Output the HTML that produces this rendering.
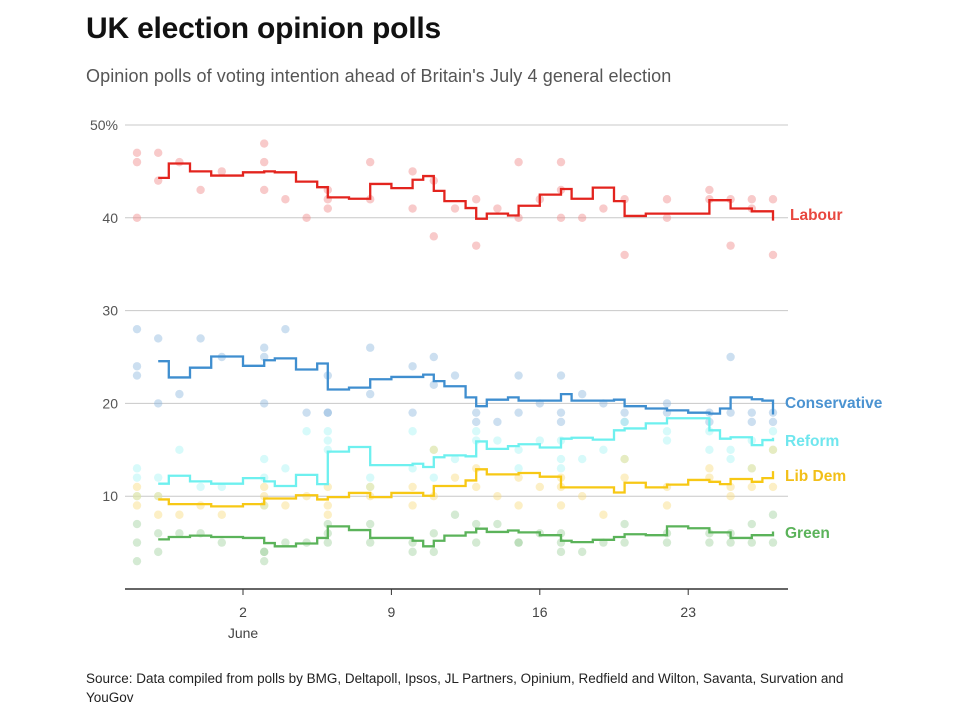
<!DOCTYPE html>
<html><head><meta charset="utf-8">
<style>
body{margin:0;background:#fff;font-family:"Liberation Sans",sans-serif;}
#wrap{position:relative;width:960px;height:720px;overflow:hidden;}
h1{position:absolute;left:86px;top:12px;margin:0;font-size:30px;font-weight:bold;color:#111;letter-spacing:-0.2px}
.sub{position:absolute;left:86px;top:66px;font-size:18px;color:#555;letter-spacing:0.1px}
.src{position:absolute;left:86px;top:669px;font-size:13.5px;color:#222;line-height:19px;width:790px}
</style></head><body>
<div id="wrap">
<h1>UK election opinion polls</h1>
<div class="sub">Opinion polls of voting intention ahead of Britain's July 4 general election</div>
<svg id="chart" width="960" height="720" style="position:absolute;left:0;top:0"></svg>
<div class="src">Source: Data compiled from polls by BMG, Deltapoll, Ipsos, JL Partners, Opinium, Redfield and Wilton, Savanta, Survation and YouGov</div>
</div>
<script>
const yTicks=[10,20,30,40,50];
const xTickDays=[2,9,16,23];
const xTickLabels=["2","9","16","23"];
const seriesNames=["Labour","Conservative","Reform","Lib Dem","Green"];
const labDays=[-2,-1.5,-0.5,0.5,2,3,3.5,4.5,5.5,6,7,8,9,10,10.5,11,11.5,12.5,13,13.5,14.5,15,16,17,17.5,18.5,19.5,20,21,24,25,26];
const labVals=[44.3,45.85,45,44.55,44.9,45,44.9,43.9,43.3,42.2,42.05,43.65,43.2,44.1,44.5,42.9,41.8,41.05,39.9,40.45,40.25,41.3,42.5,43.1,42.05,43.25,41.8,40.2,40.45,41.9,41,40.7];
const conDays=[-2,-1.5,-0.5,0.5,2,3,3.5,4.5,5.5,6,7,8,9,10.5,11,11.5,12.5,13,13.5,14.5,15,17,17.5,19.5,20,21,22,23,24,24.5,25,26,26.5];
const conVals=[24.55,22.8,23.85,25.05,24.05,24.65,24.85,23.65,24.3,21.5,21.7,22.6,22.85,23.1,22.4,21.85,20.65,19.7,20.4,20.65,20.3,21,20.3,20.4,19.7,19.45,19.25,19,18.9,19.45,20.65,20.45,20.3];
const refDays=[-2,-1.5,-0.5,0.5,2,3,3.5,4.5,5.5,6,7,8,10,10.5,11,11.5,12.5,13,13.5,14.5,15,16,17,17.5,18.5,19.5,20,21,22,24,24.5,25,26,26.5];
const refVals=[11.35,12.2,11.6,11.35,11.95,11.6,11.1,12.3,11.3,14.8,15.3,13.35,13.5,13.15,14.2,14.4,14.3,15.9,15.1,15.4,15.6,15.25,16.2,16.3,16.1,17.1,17.3,17.85,18.4,17.1,16.2,16.35,15.5,16.05];
const ldDays=[-2,-1.5,0.5,2,3,4.5,5.5,6,7,8,9,10.5,11,12.5,13,13.5,15,16,17,19.5,20,21,22,23,24,24.5,25,26,26.5];
const ldVals=[9.65,9.15,8.9,9.15,9.75,10.1,9.65,9.9,10.35,9.9,10.35,10.05,11.1,11.7,12.9,12.35,12.5,12.1,10.95,10.4,11.45,10.95,11.25,11.75,11.55,11.3,11.85,11.55,11.95];
const grnDays=[-2,-1.5,-0.5,0.5,2,3,3.5,4.5,5.5,6,7,8,10,10.5,11,11.5,12.5,13,13.5,14.5,15,16,17,17.5,18.5,19.5,20,21,22,23,24,25,26];
const grnVals=[5.35,5.6,5.75,5.6,5.5,4.95,4.6,4.9,5.5,6.75,6.35,5.5,5.2,4.6,5.2,5.75,6.1,6.5,6.15,6.3,6.1,5.8,5.2,5.05,5.3,5.6,5.9,5.8,6.75,6.55,6.1,5.5,5.8];
const endDay=27;
const labEnd=39.7,conEnd=18.8,refEnd=16.3,ldEnd=12.7,grnEnd=6.2;
const pollDays=[-3,-3,-3,-2,-2,-1,0,1,3,3,3,4,5,6,6,6,8,8,10,10,11,11,12,13,13,14,15,15,16,17,17,17,18,19,20,20,22,22,24,24,25,25,26,26,27,27];
const labPolls=[47,46,40,47,44,46,43,45,48,46,43,42,40,43,42,41,46,42,45,41,44,38,41,42,37,41,46,40,42,46,43,40,40,41,42,36,42,40,43,42,42,37,42,41,42,36];
const conPolls=[28,24,23,27,20,21,27,25,26,25,20,28,19,23,19,19,26,21,24,19,25,22,23,19,18,18,23,19,20,23,19,18,21,20,19,18,20,19,19,18,25,19,18,19,19,18];
const refPolls=[13,12,10,12,10,15,11,11,14,12,9,13,17,17,16,15,12,11,17,13,15,12,14,17,16,16,13,15,16,16,14,13,14,15,18,14,17,16,17,15,15,14,16,13,17,15];
const ldPolls=[11,10,9,10,8,8,9,8,11,10,9,9,10,11,9,8,11,10,11,9,15,10,12,13,11,10,9,12,11,12,11,9,10,8,14,12,9,11,13,12,11,10,13,11,15,11];
const grnPolls=[5,3,7,4,6,6,6,5,4,3,4,5,5,7,6,5,7,5,5,4,4,6,8,7,5,7,5,5,6,6,5,4,4,5,7,5,5,6,5,6,6,5,7,5,8,5];

const NS="http://www.w3.org/2000/svg";
const svg=document.getElementById('chart');
const X0=125,X1=788;
function xs(d){return 243+(d-2)*21.2;}
function ys(v){return 589-v*9.28;}
function mk(tag,attrs,parent){const e=document.createElementNS(NS,tag);for(const k in attrs)e.setAttribute(k,attrs[k]);(parent||svg).appendChild(e);return e;}

yTicks.forEach((t,i)=>{
  const g=mk('line',{x1:X0,x2:X1,y1:ys(t),y2:ys(t),stroke:'#c8c8c8','stroke-width':1});
  
  
  const tx=mk('text',{x:118,y:ys(t)+5,'text-anchor':'end','font-size':14,fill:'#555'});
  tx.textContent=t===50?'50%':String(t);
  
  
});
const ax=mk('line',{x1:X0,x2:X1,y1:589,y2:589,stroke:'#333','stroke-width':1.5});


xTickDays.forEach((d,i)=>{
  const tk=mk('line',{x1:xs(d),x2:xs(d),y1:589,y2:595,stroke:'#333'});
  
  
  const tx=mk('text',{x:xs(d),y:617,'text-anchor':'middle','font-size':14,fill:'#444'});
  tx.textContent=xTickLabels[i];
  
  
});
const jn=mk('text',{x:xs(2),y:638,'text-anchor':'middle','font-size':14,fill:'#444'});
jn.textContent='June';



const series=[
 {n:'labour',days:labDays,vals:labVals,end:labEnd,polls:labPolls,line:'#e3241e',dot:'#f08a8a',lab:'#e8473f',ly:215},
 {n:'conservative',days:conDays,vals:conVals,end:conEnd,polls:conPolls,line:'#3f8ecf',dot:'#8fb7de',lab:'#4b93d1',ly:403},
 {n:'reform',days:refDays,vals:refVals,end:refEnd,polls:refPolls,line:'#6ef0ef',dot:'#a6f3f3',lab:'#6fe6ee',ly:441},
 {n:'lib-dem',days:ldDays,vals:ldVals,end:ldEnd,polls:ldPolls,line:'#f7c815',dot:'#f9dc7e',lab:'#f2bf18',ly:476},
 {n:'green',days:grnDays,vals:grnVals,end:grnEnd,polls:grnPolls,line:'#5bb35a',dot:'#9fd19e',lab:'#5bb35a',ly:533}
];
series.forEach((s,si)=>{
  s.polls.forEach((v,i)=>{
    const c=mk('circle',{cx:xs(pollDays[i]),cy:ys(v),r:4.2,fill:s.dot,'fill-opacity':0.45});
    
    
  });
});
series.forEach((s,si)=>{
  let d='M'+xs(s.days[0])+','+ys(s.vals[0]);
  for(let i=1;i<s.days.length;i++){d+=' H'+xs(s.days[i])+' V'+ys(s.vals[i]);}
  d+=' H'+xs(endDay)+' V'+ys(s.end);
  const p=mk('path',{d:d,fill:'none',stroke:s.line,'stroke-width':2.3});
  
  
  const t=mk('text',{x:si===0?790:785,y:s.ly+5,'font-size':15.5,'font-weight':'bold',fill:s.lab});
  t.textContent=seriesNames[si];
  
  
});
</script>
</body></html>
